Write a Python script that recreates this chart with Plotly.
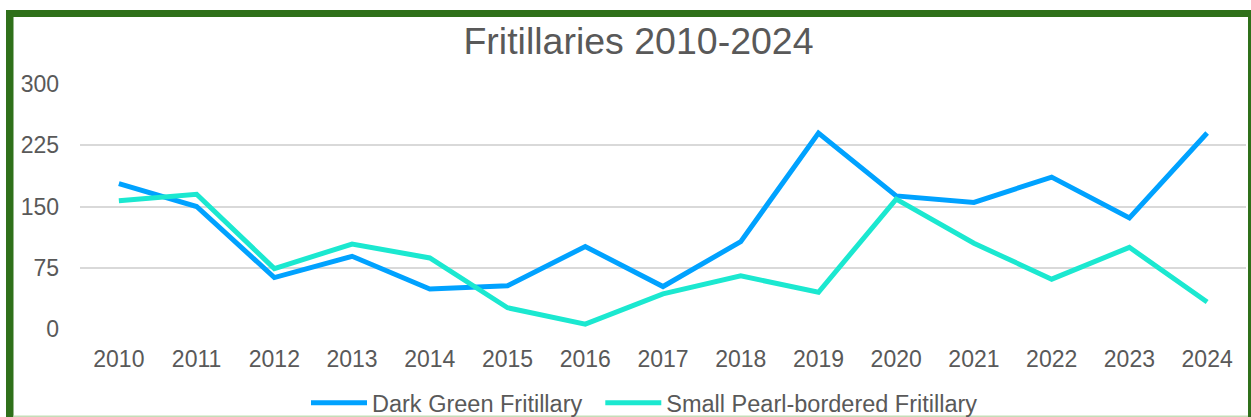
import plotly.graph_objects as go

years = ["2010", "2011", "2012", "2013", "2014", "2015", "2016", "2017",
         "2018", "2019", "2020", "2021", "2022", "2023", "2024"]
dark_green = [178, 150, 63, 89, 49, 53, 101, 52, 107, 240, 163, 155, 186, 136, 240]
small_pearl = [157, 165, 74, 104, 87, 26, 6, 43, 65, 45, 159, 105, 61, 100, 33]
y_ticks = [0, 75, 150, 225, 300]

W, H = 1251, 417
L, R, T, B = 80, 5, 84, 88
PW = W - L - R
PH = H - T - B

def px_x(x):
    return (x - L) / PW

def px_y(y):
    return (H - B - y) / PH

grey = "#595959"
font = "Liberation Sans, Arial, sans-serif"

fig = go.Figure()
fig.add_trace(go.Scatter(x=years, y=dark_green, mode="lines", name="Dark Green Fritillary\u00a0\u00a0",
                         line=dict(color="#00A2FF", width=5), cliponaxis=False))
fig.add_trace(go.Scatter(x=years, y=small_pearl, mode="lines", name="Small Pearl-bordered Fritillary",
                         line=dict(color="#1BE8D0", width=5), cliponaxis=False))

green = "#2F701A"
shapes = [
    dict(type="rect", xref="paper", yref="paper", x0=px_x(6), x1=px_x(1252), y0=px_y(17), y1=px_y(10),
         fillcolor=green, line=dict(width=0), layer="above"),
    dict(type="rect", xref="paper", yref="paper", x0=px_x(6), x1=px_x(13.5), y0=px_y(418), y1=px_y(10),
         fillcolor=green, line=dict(width=0), layer="above"),
    dict(type="rect", xref="paper", yref="paper", x0=px_x(1248), x1=px_x(1252), y0=px_y(418), y1=px_y(10),
         fillcolor=green, line=dict(width=0), layer="above"),
    dict(type="rect", xref="paper", yref="paper", x0=px_x(13.5), x1=px_x(1248), y0=px_y(418), y1=px_y(415.5),
         fillcolor="#C5DDB8", line=dict(width=0), layer="above"),
]

fig.update_layout(
    width=W, height=H,
    margin=dict(l=L, r=R, t=T, b=B, autoexpand=False),
    paper_bgcolor="white", plot_bgcolor="white",
    font=dict(family=font, color=grey, size=23),
    title=dict(text="Fritillaries 2010-2024", font=dict(size=37.5, color=grey, family=font),
               xref="container", yref="container", x=638.5 / W, xanchor="center",
               y=1 - 40.5 / H, yanchor="middle"),
    xaxis=dict(type="category", range=[-0.5, 14.5], showgrid=False, showline=False, zeroline=False,
               tickfont=dict(size=23, color=grey), ticks="", ticklabelstandoff=14, automargin=False),
    yaxis=dict(range=[0, 300], tickvals=y_ticks, showgrid=True, gridcolor="#D9D9D9", gridwidth=2,
               zeroline=False, showline=False, ticks="", tickfont=dict(size=23, color=grey),
               ticklabelstandoff=20, automargin=False),
    showlegend=True,
    legend=dict(orientation="h", xref="container", yref="container",
                x=306 / W, xanchor="left", y=1 - 381 / H, yanchor="top",
                font=dict(size=23.5, color=grey), itemwidth=56,
                bgcolor="rgba(0,0,0,0)"),
    shapes=shapes,
)

fig.write_html("out.html", config={"displayModeBar": False},
               post_script="document.body.style.margin='0';document.body.style.overflow='hidden';")
